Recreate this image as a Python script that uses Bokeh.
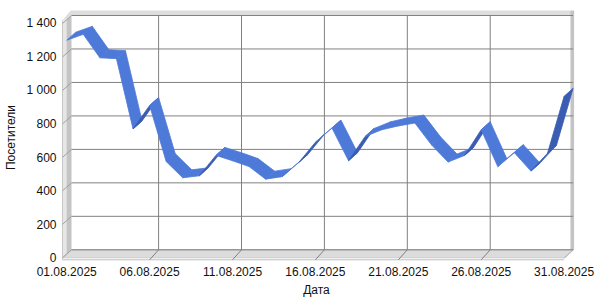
import math
from bokeh.plotting import figure
from bokeh.models import Range1d
from bokeh.core.properties import value
from bokeh.embed import file_html
from bokeh.resources import INLINE

# ---- data ----
dates = ["%02d.08.2025" % d for d in range(1, 32)]
visitors = [1300, 1335, 1195, 1190, 770, 910, 575, 478, 490, 612,
            580, 545, 470, 485, 570, 690, 775, 580, 725, 765,
            788, 805, 675, 572, 612, 765, 545, 628, 518, 625, 965]
y_ticks = [0, 200, 400, 600, 800, 1000, 1200, 1400]
y_tick_labels = ["0", "200", "400", "600", "800", "1 000", "1 200", "1 400"]
x_tick_idx = [0, 5, 10, 15, 20, 25, 30]
x_title = "Дата"
y_title = "Посетители"

# ---- geometry (pixel scale of the 3D box) ----
STEP = 16.58          # px per category
VS = 0.16736          # px per visitor
DX = 9.0 / STEP       # depth offset in category units
DY = 8.0 / VS         # depth offset in value units
X0PIX = 66.2          # pixel column of the first category (front)
Y0PIX = 257.3         # pixel row of value 0 (front)
XL = -4.2 / STEP      # left edge of the box (front)
XR = len(visitors) - 1
VMAX = 1400

def xd(px):
    return (px - X0PIX) / STEP

def yd(py):
    return (Y0PIX - py) / VS

p = figure(width=600, height=300, output_backend="svg", toolbar_location=None,
           x_range=Range1d(xd(0), xd(600)), y_range=Range1d(yd(300), yd(0)),
           min_border=0)
p.outline_line_color = None
p.axis.visible = False
p.xgrid.visible = False
p.ygrid.visible = False
p.background_fill_color = "white"
p.border_fill_color = "white"

FONT = value("Liberation Sans")

# ---- walls ----
p.patch([XL, XL + DX * 0.9, XR + DX + 0.06, XR + DX + 0.06, XL + DX, XL],
        [VMAX + 18, VMAX + DY + 30, VMAX + DY + 30, VMAX + DY, VMAX + DY, VMAX],
        fill_color="#dedede", line_color=None)
p.patch([XR + DX - 0.16, XR + DX + 0.06, XR + DX + 0.06, XR + 0.06, XR - 0.1, XR + DX - 0.16],
        [VMAX + DY + 28, VMAX + DY + 28, DY, -2, -2, DY],
        fill_color="#c4c4c4", line_color=None)
p.patch([XL, XL + DX * 0.45, XL + DX * 0.45, XL],
        [-2, DY * 0.45, VMAX + 18 + DY * 0.3, VMAX + 18],
        fill_color="#e6e6e6", line_color=None)
p.patch([XL + DX * 0.45, XL + DX, XL + DX, XL + DX * 0.45],
        [DY * 0.45, DY, VMAX + DY, VMAX + DY * 0.5],
        fill_color="#c4c4c4", line_color=None)
p.patch([XL, XL + DX, XR + DX, XR],
        [0, DY, DY, 0], fill_color="#dcdcdc", line_color="#bdbdbd", line_width=1)
p.patch([XL, XR, XR, XL], [0, 0, -12, -12], fill_color="#f0f0f0", line_color=None)
p.line([XL, XR], [-12, -12], line_color="#c0c0c0", line_width=1)
p.line([XL, XL], [-12, VMAX + 18], line_color="#c8c8c8", line_width=1)

# ---- gridlines ----
for v in y_ticks:
    p.line([XL + DX, XR + DX], [v + DY, v + DY], line_color="#808080", line_width=1)
    p.line([XL, XL + DX], [v, v + DY], line_color="#a0a0a0", line_width=1)
for c in x_tick_idx[1:-1]:
    p.line([c + DX, c + DX], [DY, VMAX + DY], line_color="#808080", line_width=1)
    p.line([c, c + DX], [-12, DY], line_color="#808080", line_width=1)

# ---- 3D ribbon ----
xs, ys, fills = [], [], []
for i in range(len(visitors) - 1):
    v0, v1 = visitors[i], visitors[i + 1]
    xs.append([i, i + 1, i + 1 + DX, i + DX])
    ys.append([v0, v1, v1 + DY, v0 + DY])
    rise_px = (v1 - v0) * VS
    fills.append("#3a5db3" if rise_px / STEP > 8.0 / 9.0 else "#4d79d8")
p.patches(xs, ys, fill_color=fills, line_color=fills, line_width=0.8)

# ---- tick labels and titles (as text) ----
p.text(x=[xd(56)] * len(y_ticks), y=y_ticks, text=y_tick_labels,
       text_font=FONT, text_font_size="12px", text_color="#111111",
       text_align="right", text_baseline="middle")
p.text(x=x_tick_idx, y=[yd(270.5)] * len(x_tick_idx), text=[dates[i] for i in x_tick_idx],
       text_font=FONT, text_font_size="12px", text_color="#111111",
       text_align="center", text_baseline="middle")
p.text(x=[xd(316)], y=[yd(289)], text=[x_title],
       text_font=FONT, text_font_size="12px", text_color="#111111",
       text_align="center", text_baseline="middle")
p.text(x=[xd(10)], y=[yd(137)], text=[y_title], angle=math.pi / 2,
       text_font=FONT, text_font_size="12px", text_color="#111111",
       text_align="center", text_baseline="middle")

open("out.html", "w").write(file_html(p, INLINE))
